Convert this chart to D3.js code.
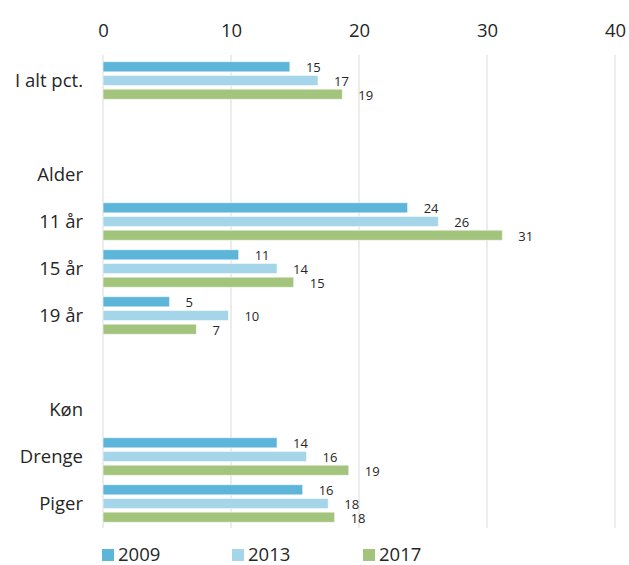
<!DOCTYPE html>
<html>
<head>
<meta charset="utf-8">
<script src="https://cdn.jsdelivr.net/npm/d3@7"></script>
<style>
	body {
		margin: 0;
		background: #fff;
	}
	svg text {
		font-family: 'Open Sans', 'Noto Sans', sans-serif;
		fill: #262626;
	}
</style>
</head>
<body>
<div id="chart"></div>
<script>
// Rows top to bottom; names starting with '_' are empty spacer rows
const rows = ['I alt pct.', '_1', 'Alder', '11 år', '15 år', '19 år', '_2', 'Køn', 'Drenge', 'Piger'];
const seriesNames = ['2009', '2013', '2017'];

// Values per row (null = no bar)
const values2009 = [14.6, null, null, 23.8, 10.6, 5.2, null, null, 13.6, 15.6];
const values2013 = [16.8, null, null, 26.2, 13.6, 9.8, null, null, 15.9, 17.6];
const values2017 = [18.7, null, null, 31.2, 14.9, 7.3, null, null, 19.2, 18.1];

const xTicks = [0, 10, 20, 30, 40];

const COLORS = {
	'2009': '#5eb5da',
	'2013': '#a5d5e8',
	'2017': '#a3c47d',
};

const width = 629;
const height = 565;
const margin = {top: 57, right: 14, bottom: 38, left: 103};

const svg = d3
	.select('#chart')
	.append('svg')
	.attr('width', width)
	.attr('height', height);

const x = d3
	.scaleLinear()
	.domain([0, 40])
	.range([margin.left, width - margin.right]);

const y = d3
	.scaleBand()
	.domain(rows)
	.range([margin.top, height - margin.bottom])
	.paddingInner(0.17)
	.paddingOuter(0.085);

const ySub = d3
	.scaleBand()
	.domain(seriesNames)
	.range([0, y.bandwidth()])
	.paddingInner(0.26)
	.paddingOuter(0.05);

// Gridlines
svg
	.append('g')
	.selectAll('line')
	.data(xTicks)
	.enter()
	.append('line')
	.attr('x1', d => x(d))
	.attr('x2', d => x(d))
	.attr('y1', margin.top - 2)
	.attr('y2', height - margin.bottom + 1)
	.attr('stroke', '#d9d9d9')
	.attr('stroke-width', 1);

// Top axis labels
const xAxis = svg
	.append('g')
	.attr('transform', `translate(0,${margin.top - 20})`)
	.call(d3.axisTop(x).tickValues(xTicks).tickSize(0).tickPadding(0));
xAxis.select('.domain').remove();
xAxis
	.selectAll('text')
	.style('font-size', '18.5px')
	.style('font-family', "'Open Sans', sans-serif")
	.attr('fill', '#262626');

// Category labels
svg
	.append('g')
	.selectAll('text')
	.data(rows.filter(r => !r.startsWith('_')))
	.enter()
	.append('text')
	.attr('x', margin.left - 20)
	.attr('y', d => y(d) + y.bandwidth() / 2)
	.attr('dy', '0.35em')
	.attr('text-anchor', 'end')
	.style('font-size', '18.5px')
	.text(d => d);

const series = [values2009, values2013, values2017];
const barData = [];
rows.forEach((row, i) => {
	seriesNames.forEach((name, j) => {
		const v = series[j][i];
		if (v != null) {
			barData.push({row, name, value: v});
		}
	});
});

const bars = svg.append('g');

bars
	.selectAll('rect')
	.data(barData)
	.enter()
	.append('rect')
	.attr('x', x(0))
	.attr('y', d => y(d.row) + ySub(d.name))
	.attr('width', d => x(d.value) - x(0))
	.attr('height', ySub.bandwidth())
	.attr('fill', d => COLORS[d.name])
	.attr('stroke', '#fff')
	.attr('stroke-opacity', 0.6)
	.attr('stroke-width', 1);

bars
	.selectAll('text')
	.data(barData)
	.enter()
	.append('text')
	.attr('x', d => x(d.value) + 16)
	.attr('y', d => y(d.row) + ySub(d.name) + ySub.bandwidth() / 2 + 1)
	.attr('dy', '0.35em')
	.style('font-size', '13px')
	.text(d => d3.format('.0f')(d.value));

// Legend
const legendX = [102, 232, 363];
const legend = svg
	.append('g')
	.selectAll('g')
	.data(seriesNames)
	.enter()
	.append('g')
	.attr('transform', (d, i) => `translate(${legendX[i]},${height - 10})`);

legend
	.append('rect')
	.attr('x', 0)
	.attr('y', -6)
	.attr('width', 12)
	.attr('height', 12)
	.attr('fill', d => COLORS[d]);

legend
	.append('text')
	.attr('x', 16)
	.attr('y', 0)
	.attr('dy', '0.35em')
	.style('font-size', '18.5px')
	.text(d => d);
</script>
</body>
</html>
